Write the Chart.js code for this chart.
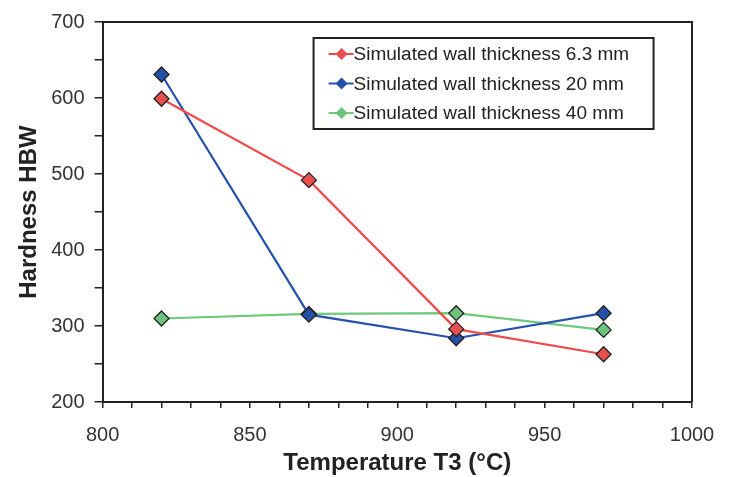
<!DOCTYPE html>
<html>
<head>
<meta charset="utf-8">
<script src="https://cdn.jsdelivr.net/npm/chart.js@4"></script>
<style>
  html, body { margin: 0; padding: 0; background: #fff; }
  #wrap { width: 732px; height: 477px; }
</style>
</head>
<body>
<div id="wrap"><canvas id="hardnessChart" width="732" height="477"></canvas></div>
<script>
const temps = [820, 870, 920, 970];
const wall63 = [599, 492, 296, 263];
const wall20 = [631, 315, 284, 317];
const wall40 = [310, 316, 317, 295];
const seriesLabels = [
    'Simulated wall thickness 6.3 mm',
    'Simulated wall thickness 20 mm',
    'Simulated wall thickness 40 mm'
];

const toPoints = (vals) => temps.map((t, i) => ({ x: t, y: vals[i] }));

// box around the plot + legend box inside the plot
const frameAndLegend = {
    id: 'frameAndLegend',
    afterDraw: (chart) => {
        const ctx = chart.ctx;
        const a = chart.chartArea;
        ctx.save();
        ctx.strokeStyle = '#222';
        ctx.lineWidth = 2;
        ctx.beginPath();
        ctx.moveTo(a.left, a.top);
        ctx.lineTo(a.right, a.top);
        ctx.lineTo(a.right, a.bottom);
        ctx.stroke();

        const bx = a.left + 211, by = a.top + 16, bw = 340, bh = 91;
        ctx.fillStyle = '#fff';
        ctx.fillRect(bx, by, bw, bh);
        ctx.lineWidth = 2;
        ctx.strokeRect(bx, by, bw, bh);

        ctx.font = '19px "Liberation Sans", Arial, sans-serif';
        ctx.textBaseline = 'middle';
        chart.data.datasets.forEach((ds, i) => {
            const y = by + 16 + i * 29.5;
            const cx = bx + 28;
            ctx.strokeStyle = ds.borderColor;
            ctx.lineWidth = 2;
            ctx.beginPath();
            ctx.moveTo(bx + 15, y);
            ctx.lineTo(bx + 40, y);
            ctx.stroke();
            ctx.beginPath();
            ctx.moveTo(cx, y - 6);
            ctx.lineTo(cx + 6, y);
            ctx.lineTo(cx, y + 6);
            ctx.lineTo(cx - 6, y);
            ctx.closePath();
            ctx.fillStyle = ds.pointBackgroundColor;
            ctx.fill();
            ctx.fillStyle = '#222';
            ctx.fillText(ds.label, bx + 40, y + 1);
        });
        ctx.restore();
    }
};

const ctx = document.getElementById('hardnessChart').getContext('2d');
new Chart(ctx, {
    type: 'scatter',
    data: {
        datasets: [
            {
                label: seriesLabels[0],
                data: toPoints(wall63),
                showLine: true,
                borderColor: '#f24a4a',
                borderWidth: 2.2,
                pointStyle: 'rectRot',
                pointRadius: 7.5,
                pointBackgroundColor: '#e8504f',
                pointBorderColor: '#222',
                pointBorderWidth: 1.3
            },
            {
                label: seriesLabels[1],
                data: toPoints(wall20),
                showLine: true,
                borderColor: '#2650ad',
                borderWidth: 2.2,
                pointStyle: 'rectRot',
                pointRadius: 7.5,
                pointBackgroundColor: '#2451a8',
                pointBorderColor: '#222',
                pointBorderWidth: 1.3
            },
            {
                label: seriesLabels[2],
                data: toPoints(wall40),
                showLine: true,
                borderColor: '#6dc97b',
                borderWidth: 2.2,
                pointStyle: 'rectRot',
                pointRadius: 7.5,
                pointBackgroundColor: '#6cc47c',
                pointBorderColor: '#222',
                pointBorderWidth: 1.3
            }
        ]
    },
    options: {
        responsive: false,
        animation: false,
        layout: { padding: { top: 13, right: 40, left: 20, bottom: 12 } },
        plugins: {
            legend: { display: false },
            tooltip: { enabled: false }
        },
        scales: {
            x: {
                type: 'linear',
                min: 800,
                max: 1000,
                ticks: {
                    stepSize: 10,
                    autoSkip: false,
                    maxRotation: 0,
                    color: '#333',
                    font: { size: 20, family: '"Liberation Sans", Arial, sans-serif' },
                    padding: 15,
                    callback: (v) => (v % 50 === 0 ? v : '')
                },
                grid: { display: true, drawOnChartArea: false, tickLength: 6, color: '#222', lineWidth: 1.5 },
                border: { display: true, color: '#222', width: 2 },
                title: {
                    display: true,
                    text: 'Temperature T3 (°C)',
                    color: '#222',
                    font: { size: 24, weight: 'bold', lineHeight: 0.12, family: '"Liberation Sans", Arial, sans-serif' },
                    padding: { top: 0, bottom: 0 }
                }
            },
            y: {
                min: 200,
                max: 700,
                ticks: {
                    stepSize: 50,
                    autoSkip: false,
                    color: '#333',
                    font: { size: 20, family: '"Liberation Sans", Arial, sans-serif' },
                    padding: 10,
                    callback: (v) => (v % 100 === 0 ? v : '')
                },
                grid: { display: true, drawOnChartArea: false, tickLength: 8, color: '#222', lineWidth: 1.5 },
                border: { display: true, color: '#222', width: 2 },
                title: {
                    display: true,
                    text: 'Hardness HBW',
                    color: '#222',
                    font: { size: 24, weight: 'bold', lineHeight: 0.8, family: '"Liberation Sans", Arial, sans-serif' },
                    padding: { top: 0, bottom: 2 }
                }
            }
        }
    },
    plugins: [frameAndLegend]
});
</script>
</body>
</html>
